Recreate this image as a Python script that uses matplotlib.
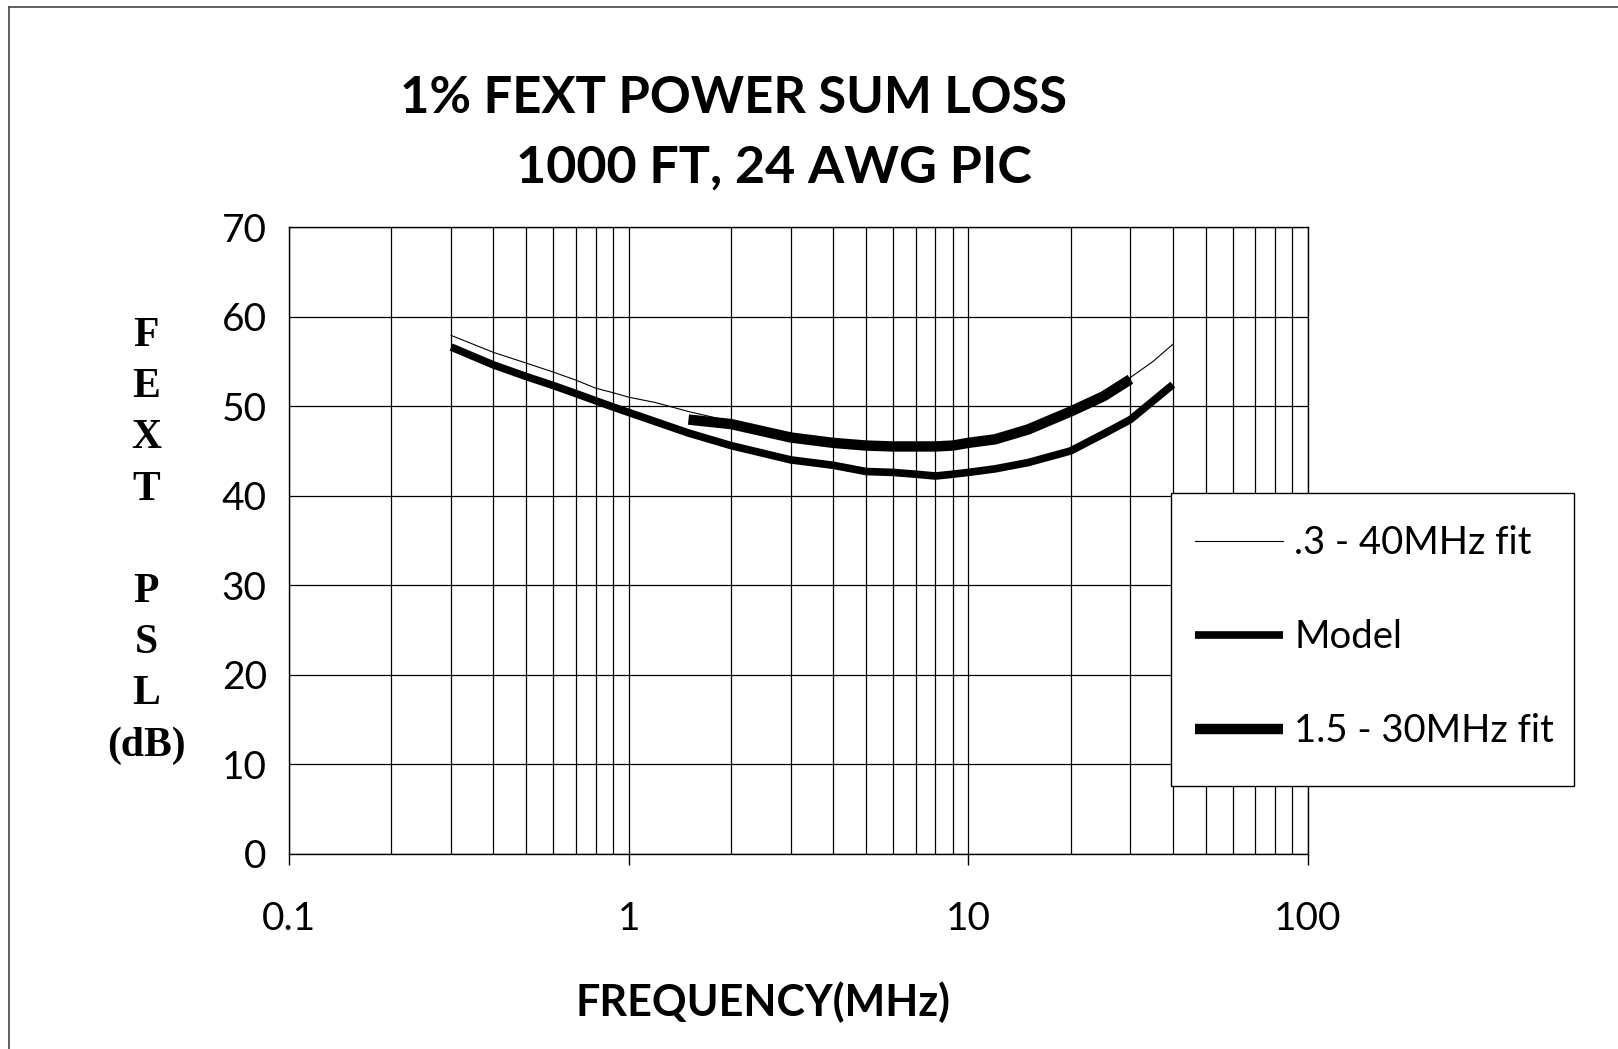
import matplotlib
matplotlib.use("Agg")
import matplotlib.pyplot as plt
from matplotlib import font_manager
from matplotlib.lines import Line2D
from matplotlib.patches import Rectangle

# --- data (frequency in MHz, FEXT PSL in dB) ---
freq_wide = [0.3, 0.4, 0.5, 0.6, 0.7, 0.8, 0.9, 1.0, 1.2, 1.5, 2, 3, 4, 5, 6, 8,
             10, 15, 20, 25, 30, 35, 40]
psl_wide = [57.9, 56.0, 54.8, 53.8, 52.9, 52.0, 51.5, 51.0, 50.4, 49.4, 48.3,
            46.6, 45.9, 45.6, 45.5, 45.5, 45.8, 47.3, 49.3, 51.0, 53.2, 55.0, 56.9]

freq_model = [0.3, 0.4, 0.5, 0.6, 0.7, 0.8, 0.9, 1.0, 1.5, 2, 3, 4, 5, 6, 7, 8,
              9, 10, 12, 15, 20, 25, 30, 40]
psl_model = [56.6, 54.6, 53.3, 52.3, 51.4, 50.6, 49.9, 49.3, 47.0, 45.6, 44.0,
             43.4, 42.7, 42.6, 42.4, 42.2, 42.4, 42.6, 43.0, 43.7, 45.0, 46.9,
             48.5, 52.4]

freq_fit = [1.5, 2, 3, 4, 5, 6, 7, 8, 9, 10, 12, 15, 20, 25, 30]
psl_fit = [48.5, 48.0, 46.5, 45.9, 45.6, 45.5, 45.5, 45.5, 45.6, 45.9, 46.3,
           47.4, 49.4, 51.1, 53.0]

series_labels = [".3 - 40MHz fit", "Model", "1.5 - 30MHz fit"]
y_ticks = [0, 10, 20, 30, 40, 50, 60, 70]
x_ticks = [0.1, 1, 10, 100]
x_ticklabels = ["0.1", "1", "10", "100"]
ylabel_letters = ["F", "E", "X", "T", "", "P", "S", "L", "(dB)"]

# fonts
installed = {f.name for f in font_manager.fontManager.ttflist}
sans = "Lato" if "Lato" in installed else "DejaVu Sans"
serif = "Liberation Serif" if "Liberation Serif" in installed else "DejaVu Serif"
plt.rcParams["font.family"] = [sans, "DejaVu Sans"]

W, H = 1618, 1049
fig = plt.figure(figsize=(W / 100, H / 100), dpi=100)
fig.patch.set_facecolor("white")

def fx(px):
    return px / W

def fy(py):
    return 1 - py / H

ax = fig.add_axes([fx(289), fy(854), fx(1308) - fx(289), fy(227) - fy(854)])

l1, = ax.plot(freq_wide, psl_wide, color="black", lw=0.8, zorder=3)
l2, = ax.plot(freq_model, psl_model, color="black", lw=5.5, zorder=4,
              solid_capstyle="butt", solid_joinstyle="round")
l3, = ax.plot(freq_fit, psl_fit, color="black", lw=7.5, zorder=5,
              solid_capstyle="butt", solid_joinstyle="round")

ax.set_xscale("log")
ax.set_xlim(0.1, 100)
ax.set_ylim(0, 70)
ax.set_yticks(y_ticks)
ax.set_xticks(x_ticks)
ax.set_xticklabels(x_ticklabels)
ax.xaxis.set_minor_formatter(plt.NullFormatter())

ax.grid(which="both", axis="x", color="black", lw=0.9)
ax.grid(which="major", axis="y", color="black", lw=0.9)
ax.set_axisbelow(True)
for s in ax.spines.values():
    s.set_color("black")
    s.set_linewidth(1.0)

ax.tick_params(axis="x", which="major", direction="out", length=8, width=1,
               labelsize=28, pad=26)
ax.tick_params(axis="x", which="minor", length=0)
ax.tick_params(axis="y", length=0, labelsize=28, pad=16)

# legend box drawn at figure level so it sits over the grid
box = Rectangle((fx(1171), fy(786)), fx(1574) - fx(1171), fy(493) - fy(786),
                transform=fig.transFigure, facecolor="white", edgecolor="black",
                lw=1.0, zorder=1)
fig.add_artist(box)
leg = fig.legend([l1, l2, l3], series_labels, loc="upper left",
                 bbox_to_anchor=(fx(1171), fy(501)), borderaxespad=0,
                 fontsize=27.5, frameon=False, handlelength=2.3,
                 handletextpad=0.3, labelspacing=1.52, borderpad=0.63)
leg.set_zorder(2)

# titles
fig.text(fx(400), fy(113), "1% FEXT POWER SUM LOSS", fontsize=36.5,
         fontweight="bold", ha="left", va="baseline")
fig.text(fx(516), fy(183), "1000 FT, 24 AWG PIC", fontsize=37.5,
         fontweight="bold", ha="left", va="baseline")

fig.text(fx(763), fy(1002), "FREQUENCY(MHz)", fontsize=31, fontweight="bold",
         ha="center", va="center")

# stacked y label
for i, ch in enumerate(ylabel_letters):
    if ch:
        fig.text(fx(146), fy(336 + i * 51.2), ch, family=[serif, "DejaVu Serif"],
                 fontsize=30, fontweight="bold", ha="center", va="center")

# frame on the top and left of the picture
fig.add_artist(Line2D([fx(9), fx(9)], [fy(7), 0], transform=fig.transFigure,
                      color="#444444", lw=1.2))
fig.add_artist(Line2D([fx(9), 1], [fy(7), fy(7)], transform=fig.transFigure,
                      color="#444444", lw=1.2))

fig.savefig("out.png", dpi=100)
